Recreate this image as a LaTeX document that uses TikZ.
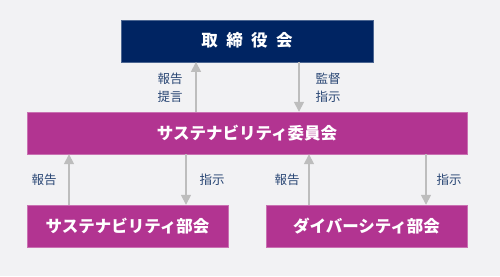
\documentclass[tikz,border=0pt]{standalone}
\usepackage{fontspec}
\usetikzlibrary{arrows.meta}
\newfontfamily\jpfont{Noto Sans CJK JP}
\definecolor{bgcol}{HTML}{F2F2F4}
\definecolor{navy}{HTML}{002462}
\definecolor{magenta}{HTML}{B23491}
\definecolor{flowgrey}{HTML}{BDBDBD}
\definecolor{labelblue}{HTML}{2A4775}
\tikzset{
  box/.style={rectangle, text=white, inner sep=0pt, minimum height=42pt,
    font=\jpfont\bfseries\fontsize{16.5}{17}\selectfont},
  flow/.style={draw=flowgrey, line width=1.6pt, -{Triangle[width=10pt,length=10pt]}},
  lbl/.style={text=labelblue, align=center, inner sep=0pt,
    font=\jpfont\fontsize{12.5}{18}\selectfont}
}
\begin{document}
\begin{tikzpicture}[x=1pt,y=-1pt]
\fill[bgcol] (0,0) rectangle (500,276);
\useasboundingbox (0,0) rectangle (500,276);
\node[box, fill=navy, draw=navy!70!white, minimum width=252pt] (board) at (247,40.75) {取\hspace{8.5pt}締\hspace{8.5pt}役\hspace{8.5pt}会};
\node[box, fill=magenta, draw=magenta!70!white, minimum width=440pt] (committee) at (247,133) {サステナビリティ委員会};
\node[box, fill=magenta, draw=magenta!70!white, minimum width=201pt] (sustain) at (127.5,226) {サステナビリティ部会};
\node[box, fill=magenta, draw=magenta!70!white, minimum width=201pt] (diversity) at (366.5,226) {ダイバーシティ部会};
\coordinate (c1) at (196,0);
\coordinate (c2) at (299,0);
\coordinate (c3) at (69,0);
\coordinate (c4) at (186,0);
\coordinate (c5) at (309,0);
\coordinate (c6) at (426,0);
\draw[flow] (committee.north -| c1) -- (board.south -| c1);
\draw[flow] (board.south -| c2) -- (committee.north -| c2);
\draw[flow] (sustain.north -| c3) -- (committee.south -| c3);
\draw[flow] (committee.south -| c4) -- (sustain.north -| c4);
\draw[flow] (diversity.north -| c5) -- (committee.south -| c5);
\draw[flow] (committee.south -| c6) -- (diversity.north -| c6);
\node[lbl] (report1) at (170,88) {報告\\提言};
\node[lbl] (order1) at (328,88) {監督\\指示};
\node[lbl] (report2) at (44,180) {報告};
\node[lbl] (order2) at (212,180) {指示};
\node[lbl] (report3) at (287,180) {報告};
\node[lbl] (order3) at (449,180) {指示};
\end{tikzpicture}
\end{document}
